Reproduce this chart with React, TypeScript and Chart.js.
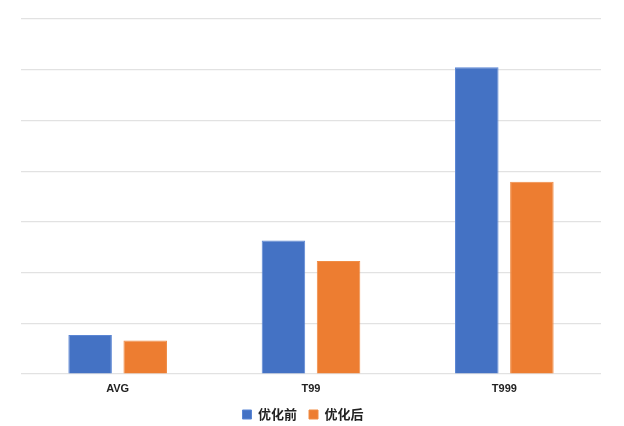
import React, { useEffect, useRef } from "react";
import { Chart, registerables } from "chart.js";

Chart.register(...registerables);

const categories = ["AVG", "T99", "T999"];
const seriesNames = ["优化前", "优化后"];
const beforeValues = [0.77, 2.63, 6.05];
const afterValues = [0.66, 2.23, 3.79];

const legendShift = {
  id: "legendShift",
  afterLayout(chart: any) {
    if (chart.legend) {
      chart.legend.left -= 8;
      chart.legend.right -= 8;
    }
  },
};

export default function App() {
  const ref = useRef<HTMLCanvasElement | null>(null);
  useEffect(() => {
    if (!ref.current) return;
    const font = "'Noto Sans CJK SC', 'Noto Sans', sans-serif";
    const chart = new Chart(ref.current, {
      type: "bar",
      data: {
        labels: categories,
        datasets: [
          {
            label: seriesNames[0],
            data: beforeValues,
            backgroundColor: "#4472C4",
            borderColor: "#5b86d4",
            borderWidth: 1,
            categoryPercentage: 0.57,
            barPercentage: 0.79,
          },
          {
            label: seriesNames[1],
            data: afterValues,
            backgroundColor: "#ED7D31",
            borderColor: "#f08c45",
            borderWidth: 1,
            categoryPercentage: 0.57,
            barPercentage: 0.79,
          },
        ],
      },
      options: {
        animation: false,
        responsive: false,
        layout: { padding: { left: 21, right: 23, top: 19, bottom: -5 } },
        scales: {
          x: {
            grid: { display: false },
            border: { display: false },
            ticks: {
              color: "#222222",
              font: { family: "'Liberation Sans', Arial, sans-serif", size: 11, weight: "bold" },
              padding: 0,
            },
            afterFit: (s: any) => {
              s.height = 22;
            },
          },
          y: {
            min: 0,
            max: 7,
            ticks: { display: false, stepSize: 1 },
            border: { display: false },
            grid: { color: "#e2e2e2", lineWidth: 1.2, drawTicks: false },
          },
        },
        plugins: {
          tooltip: { enabled: false },
          legend: {
            position: "bottom",
            labels: {
              boxWidth: 9,
              boxHeight: 9,
              padding: 12,
              color: "#222222",
              font: { family: font, size: 13, weight: "bold" },
            },
          },
        },
      },
      plugins: [legendShift],
    });
    return () => chart.destroy();
  }, []);
  return (
    <div style={{ position: "fixed", left: 0, top: 0, width: 624, height: 426, background: "#fff" }}>
      <canvas ref={ref} width={624} height={426} style={{ width: 624, height: 426 }} />
    </div>
  );
}
